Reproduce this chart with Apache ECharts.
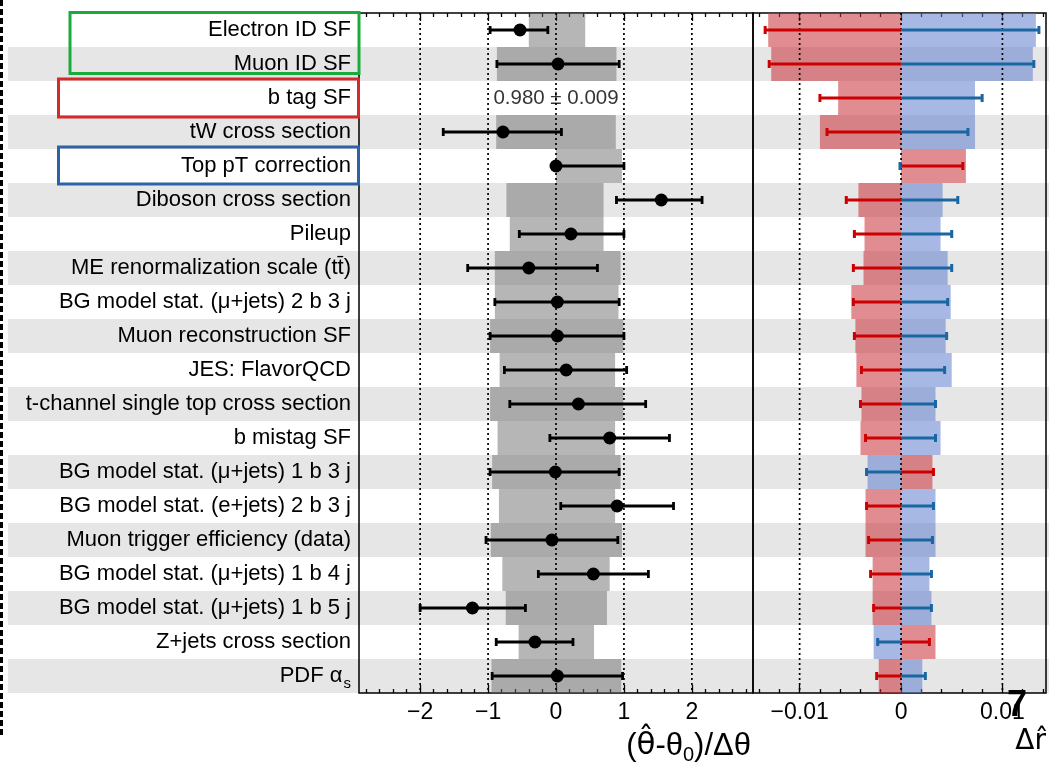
<!DOCTYPE html>
<html><head><meta charset="utf-8">
<script src="https://cdn.jsdelivr.net/npm/echarts@6/dist/echarts.min.js"></script>
<style>html,body{margin:0;padding:0;background:#fff}#c{width:1049px;height:764px}</style>
</head><body><div id="c"></div>
<script>
// ---------- data ----------
const categories = ['Electron ID SF','Muon ID SF','b tag SF','tW cross section','Top pT correction','Diboson cross section','Pileup','ME renormalization scale (tt\u0304)','BG model stat. (\u03bc+jets) 2 b 3 j','Muon reconstruction SF','JES: FlavorQCD','t-channel single top cross section','b mistag SF','BG model stat. (\u03bc+jets) 1 b 3 j','BG model stat. (e+jets) 2 b 3 j','Muon trigger efficiency (data)','BG model stat. (\u03bc+jets) 1 b 4 j','BG model stat. (\u03bc+jets) 1 b 5 j','Z+jets cross section','PDF \u03b1_s'];
// pulls (left panel)
const grayLo = [-0.40,-0.87,null,-0.88,0.00,-0.73,-0.68,-0.90,-0.90,-0.97,-0.83,-0.97,-0.86,-0.94,-0.84,-0.96,-0.79,-0.74,-0.55,-0.95];
const grayHi = [0.43,0.89,null,0.88,0.97,0.70,0.70,0.95,0.92,0.99,0.87,0.99,0.87,0.95,0.87,0.97,0.79,0.75,0.56,0.96];
const pull   = [-0.53,0.03,null,-0.78,0.00,1.55,0.22,-0.40,0.02,0.02,0.15,0.33,0.79,-0.01,0.90,-0.06,0.55,-1.23,-0.31,0.02];
const errLo  = [-0.97,-0.87,null,-1.66,0.00,0.89,-0.54,-1.30,-0.90,-0.97,-0.76,-0.68,-0.09,-0.97,0.07,-1.03,-0.26,-2.00,-0.88,-0.94];
const errHi  = [-0.12,0.93,null,0.08,1.00,2.15,1.00,0.61,0.93,1.00,1.04,1.32,1.67,0.93,1.73,0.91,1.36,-0.45,0.25,0.98];
const fixedParamText = '0.980 \u00b1 0.009';
const fixedParamRow = 2;
// impacts (right panel)
const redBar  = [-0.0131,-0.0128,-0.0062,-0.0080,0.0064,-0.0042,-0.0036,-0.0037,-0.0049,-0.0045,-0.0044,-0.0039,-0.0040,0.0031,-0.0035,-0.0035,-0.0028,-0.0028,0.0034,-0.0022];
const blueBar = [0.0133,0.0130,0.0073,0.0073,0,0.0041,0.0039,0.0046,0.0049,0.0044,0.0050,0.0034,0.0039,-0.0033,0.0034,0.0034,0.0028,0.0030,-0.0027,0.0021];
const redErr  = [-0.0134,-0.0130,-0.0080,-0.0073,0.0061,-0.0054,-0.0046,-0.0047,-0.0047,-0.0046,-0.0039,-0.0040,-0.0035,0.0032,-0.0034,-0.0032,-0.0030,-0.0027,0.0028,-0.0024];
const blueErr = [0.0136,0.0131,0.0080,0.0066,-0.0001,0.0056,0.0050,0.0050,0.0046,0.0045,0.0043,0.0034,0.0034,-0.0034,0.0032,0.0031,0.0030,0.0030,-0.0023,0.0024];
// ticks
const pullMajor = [-2,-1,0,1,2];
const pullMinor = [-2.8,-2.6,-2.4,-2.2,-1.8,-1.6,-1.4,-1.2,-0.8,-0.6,-0.4,-0.2,0.2,0.4,0.6,0.8,1.2,1.4,1.6,1.8,2.2,2.4,2.6,2.8];
const impMajor = [-0.01,0,0.01];
const impMinor = [-0.014,-0.012,-0.008,-0.006,-0.004,-0.002,0.002,0.004,0.006,0.008,0.012,0.014];

// ---------- chart ----------
const FONT = 'Liberation Sans, Arial, Helvetica, sans-serif';
const chart = echarts.init(document.getElementById('c'), null, {renderer:'canvas'});
const fmtNum = v => (v < 0 ? '\u2212' + String(-v) : String(v));

function tickAxis(grid, pos, min, max, major, isMajor, showLabel) {
  return {
    type:'value', gridIndex:grid, position:pos, min:min, max:max,
    axisLine:{show:false}, splitLine:{show:false},
    axisTick:{show:true, inside:true, length:isMajor?8:4, lineStyle:{color:'#000', width:1.3}, customValues:major},
    axisLabel:{show:showLabel, customValues:major, formatter:fmtNum, fontSize:23, fontFamily:FONT, color:'#000', margin:8}
  };
}
const rowsIdx = categories.map((c,i)=>i);

// data item layout: [from, rowIndex, to]
function bandRect(color) {
  return function(params, api) {
    const a = api.coord([api.value(0), api.value(1)]);
    const b = api.coord([api.value(2), api.value(1)]);
    const h = api.size([0,1])[1];
    return {type:'rect', shape:{x:Math.min(a[0],b[0]), y:a[1]-h/2, width:Math.abs(b[0]-a[0]), height:h}, style:{fill:color}};
  };
}
function errItem(color, lw, cap, capStart) {
  return function(params, api) {
    const a = api.coord([api.value(0), api.value(1)]);
    const b = api.coord([api.value(2), api.value(1)]);
    const st = {stroke:color, lineWidth:lw};
    const ch = [
      {type:'line', shape:{x1:a[0], y1:a[1], x2:b[0], y2:b[1]}, style:st},
      {type:'line', shape:{x1:b[0], y1:b[1]-cap/2, x2:b[0], y2:b[1]+cap/2}, style:st}
    ];
    if (capStart) ch.push({type:'line', shape:{x1:a[0], y1:a[1]-cap/2, x2:a[0], y2:a[1]+cap/2}, style:st});
    return {type:'group', children:ch};
  };
}
function vLine(params, api) {
  const p = api.coord([api.value(0), 0]);
  const cs = params.coordSys;
  return {type:'line', shape:{x1:p[0], y1:cs.y, x2:p[0], y2:cs.y+cs.height},
    style:{stroke:'#000', lineWidth:1.7, lineDash:[2,3]}};
}
const grayData = rowsIdx.filter(i=>grayLo[i]!==null).map(i=>[grayLo[i], i, grayHi[i]]);
const errData  = rowsIdx.filter(i=>errLo[i]!==null).map(i=>[errLo[i], i, errHi[i]]);
const pullData = rowsIdx.filter(i=>pull[i]!==null).map(i=>[pull[i], i]);
const redBarData  = rowsIdx.filter(i=>redBar[i]!==0).map(i=>[0, i, redBar[i]]);
const blueBarData = rowsIdx.filter(i=>blueBar[i]!==0).map(i=>[0, i, blueBar[i]]);
const redErrData  = rowsIdx.map(i=>[0, i, redErr[i]]);
const blueErrData = rowsIdx.map(i=>[0, i, blueErr[i]]);

const option = {
  animation:false,
  backgroundColor:'#fff',
  grid:[
    {left:359, right:296, top:13, bottom:71, show:true, borderColor:'#000', borderWidth:1.5, backgroundColor:'transparent', z:1},
    {left:753, right:3, top:13, bottom:71, show:true, borderColor:'#000', borderWidth:1.5, backgroundColor:'transparent', z:1},
    {left:8, right:0, top:13, bottom:71, show:false}
  ],
  xAxis:[
    tickAxis(0,'bottom',-2.9,2.9,pullMajor,true,true),
    tickAxis(0,'top',-2.9,2.9,pullMajor,true,false),
    tickAxis(0,'bottom',-2.9,2.9,pullMinor,false,false),
    tickAxis(0,'top',-2.9,2.9,pullMinor,false,false),
    tickAxis(1,'bottom',-0.0146,0.0143,impMajor,true,true),
    tickAxis(1,'top',-0.0146,0.0143,impMajor,true,false),
    tickAxis(1,'bottom',-0.0146,0.0143,impMinor,false,false),
    tickAxis(1,'top',-0.0146,0.0143,impMinor,false,false),
    {type:'value', gridIndex:2, min:0, max:1, show:false}
  ],
  yAxis:[
    {type:'category', gridIndex:0, data:categories, inverse:true,
      axisLine:{show:false}, axisTick:{show:false}, splitLine:{show:false},
      axisLabel:{fontSize:22, fontFamily:FONT, color:'#000', margin:8,
        formatter: v => v.indexOf('_')>=0 ? '{n|'+v.split('_')[0]+'}{s|'+v.split('_')[1]+'}' : v,
        rich:{n:{fontSize:22, fontFamily:FONT, color:'#000'}, s:{fontSize:15, fontFamily:FONT, color:'#000', verticalAlign:'bottom', padding:[16,0,0,1]}}}},
    {type:'category', gridIndex:1, data:categories, inverse:true, show:false},
    {type:'category', gridIndex:2, data:categories, inverse:true, z:-1,
      axisLine:{show:false}, axisTick:{show:false}, axisLabel:{show:false}, splitLine:{show:false},
      splitArea:{show:true, areaStyle:{color:['#ffffff','#e6e6e6']}}}
  ],
  series:[
    {type:'custom', name:'constraint', xAxisIndex:0, yAxisIndex:0, z:2, data:grayData,
      renderItem: bandRect('rgba(110,110,110,0.5)'), silent:true},
    {type:'custom', name:'pullGrid', xAxisIndex:0, yAxisIndex:0, z:3, data:pullMajor.map(v=>[v,0]),
      renderItem: vLine, silent:true},
    {type:'custom', name:'pullErr', xAxisIndex:0, yAxisIndex:0, z:4, data:errData,
      renderItem: errItem('#000', 2.8, 8, true), silent:true},
    {type:'scatter', name:'pull', xAxisIndex:0, yAxisIndex:0, z:5, data:pullData,
      symbol:'circle', symbolSize:13, itemStyle:{color:'#000', opacity:1}, silent:true},
    {type:'scatter', name:'fixed', xAxisIndex:0, yAxisIndex:0, z:5, data:[[0, fixedParamRow]],
      symbolSize:0, silent:true,
      label:{show:true, position:'inside', formatter:fixedParamText, fontSize:20.5, fontFamily:FONT, color:'#000'}},
    {type:'custom', name:'redBar', xAxisIndex:4, yAxisIndex:1, z:2, data:redBarData,
      renderItem: bandRect('rgba(199,46,53,0.55)'), silent:true},
    {type:'custom', name:'blueBar', xAxisIndex:4, yAxisIndex:1, z:2, data:blueBarData,
      renderItem: bandRect('rgba(93,126,204,0.55)'), silent:true},
    {type:'custom', name:'impGrid', xAxisIndex:4, yAxisIndex:1, z:3, data:impMajor.map(v=>[v,0]),
      renderItem: vLine, silent:true},
    {type:'custom', name:'redErr', xAxisIndex:4, yAxisIndex:1, z:4, data:redErrData,
      renderItem: errItem('#cc0000', 3, 8, false), silent:true},
    {type:'custom', name:'blueErr', xAxisIndex:4, yAxisIndex:1, z:4, data:blueErrData,
      renderItem: errItem('#1a66a3', 3, 8, false), silent:true}
  ],
  graphic:[
    {type:'line', z:100, shape:{x1:1.5, y1:0, x2:1.5, y2:738}, style:{stroke:'#000', lineWidth:3, lineDash:[6,3]}},
    {type:'rect', z:100, shape:{x:70, y:12.5, width:289, height:61}, style:{fill:'none', stroke:'#1aab3c', lineWidth:3}},
    {type:'rect', z:100, shape:{x:58.5, y:79, width:300, height:38}, style:{fill:'none', stroke:'#d42a2a', lineWidth:3}},
    {type:'rect', z:100, shape:{x:58.5, y:147, width:300, height:37}, style:{fill:'none', stroke:'#2d62a6', lineWidth:3}},
    {type:'text', z:100, style:{x:751, y:746, text:'{a|(}{h|\u03b8\u0302}{a|-\u03b8}{b|0}{a|)/\u0394\u03b8}', textAlign:'right', textVerticalAlign:'middle',
      rich:{a:{fontSize:31, fontFamily:FONT, fill:'#000'}, h:{fontSize:31, fontFamily:'DejaVu Sans', fill:'#000'}, b:{fontSize:20, fontFamily:FONT, fill:'#000', verticalAlign:'bottom', padding:[19,0,0,0]}}}},
    {type:'text', z:100, style:{x:1046, y:742, text:'\u0394r\u0302', fill:'#000', font:'28px DejaVu Sans', textAlign:'right', textVerticalAlign:'middle'}},
    {type:'text', z:100, style:{x:1017, y:706, text:'7', fill:'#000', font:'bold 36px '+FONT, textAlign:'center', textVerticalAlign:'middle'}}
  ]
};
chart.setOption(option);
</script>
</body></html>
